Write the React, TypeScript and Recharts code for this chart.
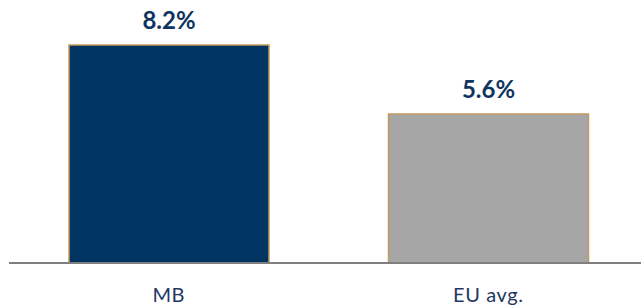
import { BarChart, Bar, XAxis, YAxis, Cell, LabelList } from 'recharts';

const categories = ['MB', 'EU avg.'];
const values = [8.2, 5.6];
const barColors = ['#003462', '#a6a6a6'];

const data = categories.map((name, i) => ({ name, value: values[i] }));

export default function App() {
  return (
    <div style={{ position: 'fixed', left: 0, top: 0, width: 641, height: 308, overflow: 'hidden', background: '#fff' }}>
      <BarChart
        width={650}
        height={308}
        data={data}
        margin={{ top: 45, right: 2, bottom: 0, left: 9 }}
        barSize={200}
      >
        <XAxis
          dataKey="name"
          axisLine={{ stroke: '#7f7f7f', strokeWidth: 2 }}
          tickLine={false}
          height={45}
          tickMargin={19}
          tick={{ fill: '#1f3864', fontSize: 20, letterSpacing: 0.6, fontFamily: 'Lato, sans-serif' }}
        />
        <YAxis hide domain={[0, 8.2]} />
        <Bar dataKey="value" stroke="#c39b5e" strokeWidth={1.5} isAnimationActive={false}>
          {data.map((d, i) => (
            <Cell key={d.name} fill={barColors[i]} />
          ))}
          <LabelList
            dataKey="value"
            position="top"
            offset={16}
            formatter={(v: number) => `${v.toFixed(1)}%`}
            style={{ fill: '#0f3460', fontSize: 24, fontWeight: 700, fontFamily: 'Lato, sans-serif' }}
          />
        </Bar>
      </BarChart>
    </div>
  );
}
